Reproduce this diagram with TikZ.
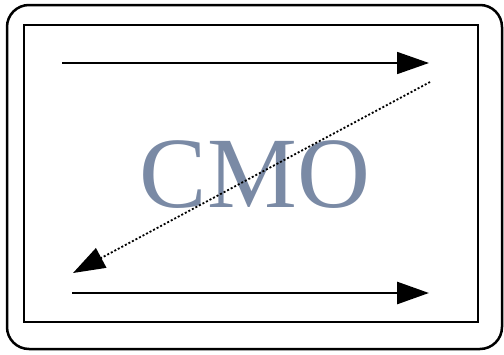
\documentclass[tikz,border=0pt]{standalone}
\usepackage{fontspec}
\setmainfont{Liberation Serif}
\usetikzlibrary{arrows.meta, positioning}
\definecolor{cmoblue}{RGB}{122,138,165}

\begin{document}
\begin{tikzpicture}[x=1pt,y=-1pt,
    flow/.style={-{Triangle[length=32pt,width=22pt]}},
    back/.style={flow, dash pattern=on 2pt off 2pt, line width=1.8pt}]
            \useasboundingbox (0,0) rectangle (504,354);
            % frames
            \draw[line width=2.5pt, rounded corners=22pt] (7,5) rectangle (502,349);
            \draw[line width=2.5pt] (24,25) rectangle (478,322);
            \node[text=cmoblue, font=\fontsize{101}{101}\selectfont] (cmo) at (255,175) {CMO};
            % arrow ends
            \coordinate (a1) at (62,63);
            \coordinate (b1) at (429,63);
            \coordinate (a2) at (430,82);
            \coordinate (b2) at (73,273);
            \coordinate (a3) at (72,293);
            \coordinate (b3) at (429,293);
            \draw[flow, line width=1.8pt] (a1) -- (b1);
            \draw[back] (a2) -- (b2);
            \draw[flow, line width=2.8pt] (a3) -- (b3);
        \end{tikzpicture}
\end{document}
